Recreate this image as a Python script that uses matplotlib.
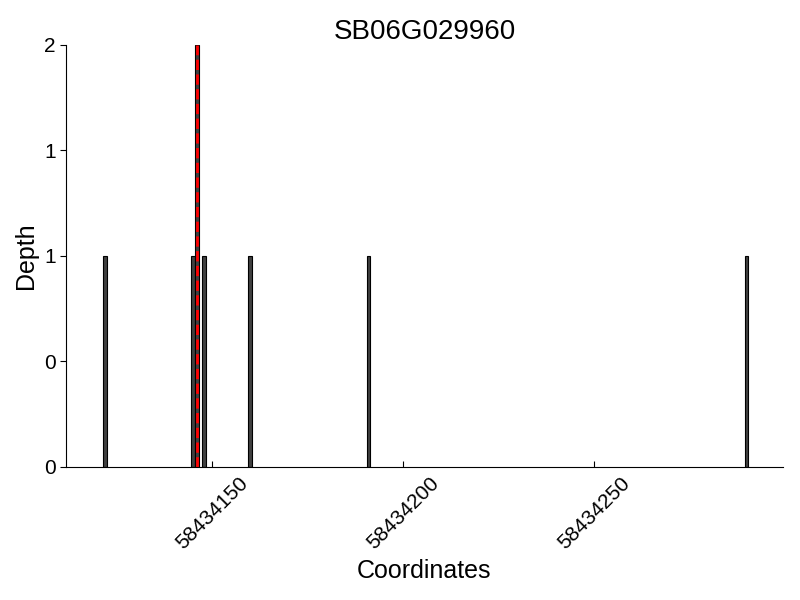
#!/usr/bin/env python3

import matplotlib
matplotlib.use("Agg")
import matplotlib.pyplot as plt
from matplotlib.ticker import FormatStrFormatter

# read coverage positions and depth
positions = [58434122, 58434145, 58434146, 58434148, 58434160, 58434191, 58434290]
depths = [1, 1, 2, 1, 1, 1, 1]
marker_pos = 58434146
gene_name = "SB06G029960"
x_ticks = [58434150, 58434200, 58434250]
y_ticks = [0, 0.5, 1, 1.5, 2]

plt.rcParams['font.family'] = ['Liberation Sans', 'DejaVu Sans']

fig = plt.figure(figsize=(8, 6), dpi=100)
ax = fig.add_axes([0.0825, 0.222, 0.896, 0.703])

ax.bar(positions, depths, width=1, color='#404040', edgecolor='black', linewidth=0.8)
ax.axvline(marker_pos, color='red', linestyle='--', linewidth=2)

ax.set_xlim(58434111.8, 58434299.5)
ax.set_ylim(0, 2)
ax.set_xticks(x_ticks)
ax.set_xticklabels([str(t) for t in x_ticks], rotation=45, fontsize=15)
ax.set_yticks(y_ticks)
ax.yaxis.set_major_formatter(FormatStrFormatter('%d'))
ax.tick_params(axis='y', direction='out', length=4, labelsize=15)
ax.tick_params(axis='x', direction='in', length=4, pad=5)

ax.spines['top'].set_visible(False)
ax.spines['right'].set_visible(False)

ax.set_xlabel('Coordinates', fontsize=18)
ax.set_ylabel('Depth', fontsize=18)
ax.set_title(gene_name, fontsize=20, pad=4)

fig.savefig('out.png', dpi=100)
plt.close(fig)
